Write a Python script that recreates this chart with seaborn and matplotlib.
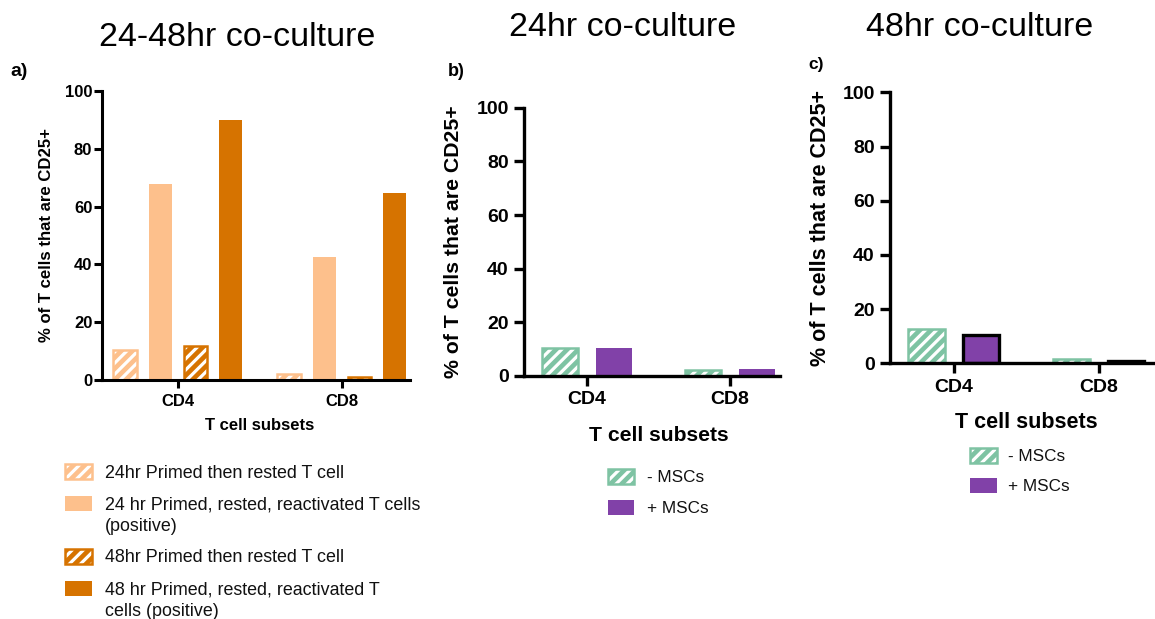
import matplotlib
matplotlib.use("Agg")
import matplotlib.pyplot as plt
import matplotlib.transforms as mtransforms
from matplotlib.patches import Rectangle
import seaborn as sns
import pandas as pd

# ---- data ----
subsets = ["CD4", "CD8"]

a_conditions = [
    "24hr Primed then rested T cell",
    "24 hr Primed, rested, reactivated T cells\n(positive)",
    "48hr Primed then rested T cell",
    "48 hr Primed, rested, reactivated T\ncells (positive)",
]
a_values = {
    a_conditions[0]: [10.5, 2.0],
    a_conditions[1]: [67.8, 42.7],
    a_conditions[2]: [11.8, 0.9],
    a_conditions[3]: [90.0, 64.8],
}
a_colors = ["#FDC08C", "#FDC08C", "#D67300", "#D67300"]
a_hatched = [True, False, True, False]

msc_conditions = ["- MSCs", "+ MSCs"]
b_values = {"- MSCs": [10.4, 2.4], "+ MSCs": [10.6, 2.6]}
c_values = {"- MSCs": [12.7, 1.7], "+ MSCs": [10.3, 1.0]}
msc_colors = ["#7EC3A3", "#8141A8"]
msc_hatched = [True, False]

yticks = [0, 20, 40, 60, 80, 100]

titles = ["24-48hr co-culture", "24hr co-culture", "48hr co-culture"]
panel_tags = ["a)", "b)", "c)"]
ylabel = "% of T cells that are CD25+"
xlabel = "T cell subsets"

# ---- style ----
sns.set_style("ticks")
plt.rcParams["font.family"] = ["Liberation Sans", "DejaVu Sans"]
plt.rcParams["hatch.linewidth"] = 2.3
HATCH = "///"

W, H = 1155, 619
fig = plt.figure(figsize=(W / 100, H / 100), dpi=100)


def fx(px):
    return px / W


def fy(py):
    return 1 - py / H


def tidy(values, order):
    rows = []
    for cond in order:
        for s, v in zip(subsets, values[cond]):
            rows.append({"subset": s, "condition": cond, "value": v})
    return pd.DataFrame(rows)


def panel(box, xlim, values, order, colors, hatched, width, gap, sizes,
          ylabel_x, xlabel_y, line_w, tick_len, ypad, xpad, edge_plus=None):
    left, top, right, bottom = box
    ax = fig.add_axes([fx(left), fy(bottom), fx(right) - fx(left),
                       (bottom - top) / H])
    df = tidy(values, order)
    sns.barplot(data=df, x="subset", y="value", hue="condition",
                hue_order=order, palette=colors, saturation=1,
                width=width, gap=gap, legend=False, ax=ax, errorbar=None)
    for i, cont in enumerate(ax.containers):
        for bar in cont:
            bar.set_linewidth(0)
            if hatched[i]:
                bar.set_facecolor(colors[i])
                bar.set_edgecolor("white")
                bar.set_hatch(HATCH)
                ax.add_patch(Rectangle(bar.get_xy(), bar.get_width(),
                                       bar.get_height(), facecolor="none",
                                       edgecolor=colors[i], linewidth=1.8,
                                       zorder=bar.get_zorder() + 0.1))
            elif edge_plus is not None:
                bar.set_edgecolor(edge_plus)
                bar.set_linewidth(2.4)
    ax.set_xlim(*xlim)
    ax.set_ylim(0, 100)
    ax.set_yticks(yticks)
    for s in ["top", "right"]:
        ax.spines[s].set_visible(False)
    for s in ["left", "bottom"]:
        ax.spines[s].set_linewidth(line_w)
        ax.spines[s].set_color("black")
    tick_fs, lab_fs_x, lab_fs_y = sizes
    ax.tick_params(axis="both", direction="out", length=tick_len,
                   width=line_w, color="black", labelcolor="black")
    ax.tick_params(axis="y", pad=ypad, labelsize=tick_fs)
    ax.tick_params(axis="x", pad=xpad, labelsize=tick_fs)
    for lab in ax.get_xticklabels() + ax.get_yticklabels():
        lab.set_fontweight("bold")
    ax.set_ylabel(ylabel, fontsize=lab_fs_y, fontweight="bold", color="black")
    ax.set_xlabel(xlabel, fontsize=lab_fs_x, fontweight="bold", color="black")
    ax.yaxis.set_label_coords(ylabel_x, 0.5)
    ax.yaxis.label.set_va("center")
    blend = mtransforms.blended_transform_factory(ax.transData, ax.transAxes)
    ax.xaxis.set_label_coords(0.5, xlabel_y, transform=blend)
    ax.xaxis.label.set_va("center")
    ax.grid(False)
    return ax


# panel a
panel((102, 91, 410, 380), (-0.463, 1.415), a_values, a_conditions,
      a_colors, a_hatched, 0.86, 0.34, (12, 12, 12.1),
      -0.1786, -0.159, 2.2, 6, 1, 4)
# panel b
panel((524, 107.7, 780, 376), (-0.4375, 1.349), b_values, msc_conditions,
      msc_colors, msc_hatched, 0.754, 0.334, (14, 15.2, 15.3),
      -0.277, -0.22, 2.4, 7, 4, 4)
# panel c
panel((890, 92.3, 1155, 363.3), (-0.441, 1.387), c_values, msc_conditions,
      msc_colors, msc_hatched, 0.754, 0.334, (14, 15.5, 15.5),
      -0.264, -0.22, 2.4, 7, 4, 4, edge_plus="black")

# titles and panel tags
for t, x, y in zip(titles, [237, 623, 980], [37, 27, 27]):
    fig.text(fx(x), fy(y), t, ha="center", va="center", fontsize=24.5,
             color="black")
for t, x, y, fs in zip(panel_tags, [10, 448, 808], [72, 72, 65],
                       [14, 13, 12.5]):
    fig.text(fx(x), fy(y), t, ha="left", va="center", fontsize=fs,
             fontweight="bold", color="black")


def legend(x0, w, h, text_x, centers, labels, colors, hatched, fs):
    em = fs * 100 / 72
    for c, lab, col, hat in zip(centers, labels, colors, hatched):
        xy = (fx(x0), fy(c + h / 2))
        size = (w / W, h / H)
        if hat:
            fig.add_artist(Rectangle(xy, *size, transform=fig.transFigure,
                                     facecolor=col, edgecolor="white",
                                     hatch=HATCH, linewidth=0))
            fig.add_artist(Rectangle(xy, *size, transform=fig.transFigure,
                                     facecolor="none", edgecolor=col,
                                     linewidth=1.8))
        else:
            fig.add_artist(Rectangle(xy, *size, transform=fig.transFigure,
                                     facecolor=col, edgecolor="none",
                                     linewidth=0))
        fig.text(fx(text_x), fy(c - 0.37 * em), lab, ha="left",
                 va="top", fontsize=fs, color="#111111",
                 linespacing=1.38)


legend(65, 27, 15, 105, [471.5, 503, 556, 588], a_conditions, a_colors,
       a_hatched, 12.9)
legend(608, 26, 15, 647, [476, 507], msc_conditions, msc_colors,
       msc_hatched, 12.3)
legend(970, 27, 15, 1008, [455, 485], msc_conditions, msc_colors,
       msc_hatched, 12.3)

fig.savefig("out.png", dpi=100)
